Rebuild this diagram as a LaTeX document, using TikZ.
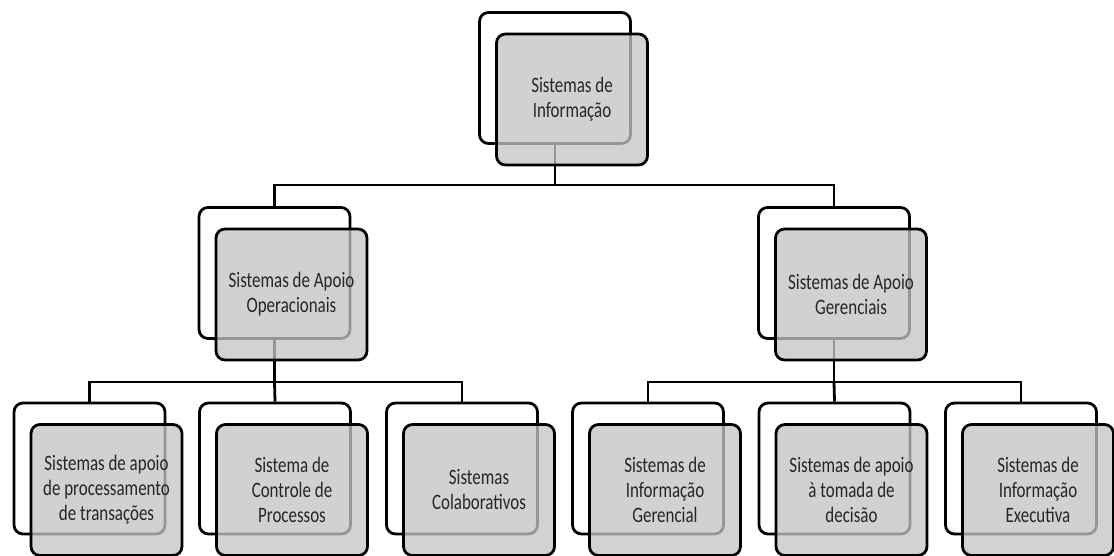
\documentclass[tikz,border=0pt]{standalone}
\usepackage{fontspec}
\newfontfamily\boxfont[FakeStretch=0.77]{Carlito}
\definecolor{boxgray}{RGB}{196,196,196}
\tikzset{
    backbox/.style={draw, line width=2.8pt, rounded corners=9pt, fill=white,
        minimum width=151pt, minimum height=131pt},
    frontbox/.style={backbox, fill=boxgray, fill opacity=0.77, text opacity=1,
        text=black!85, align=center, font=\boxfont\fontsize{22}{25}\selectfont},
    link/.style={line width=2.8pt}
}
\begin{document}
\begin{tikzpicture}[x=1pt,y=-1pt]
    \useasboundingbox (0,0) rectangle (1114,556);
    % back boxes
    \foreach \n/\x/\y in {si/555/78, sao/274.5/273, sag/834/273,
        spt/89.5/468.5, scp/275/468.5, sc/462/468.5,
        sig/648/468.5, sad/834.5/468.5, sie/1021/468.5} {
        \node[backbox] (\n) at (\x,\y) {};
    }
    % connectors
    \coordinate (bus1) at (555,185);
    \coordinate (bus2) at (274.5,382);
    \coordinate (bus3) at (834,382);
    \draw[link] (si.south) -- (bus1) -| (sao.north);
    \draw[link] (bus1) -| (sag.north);
    \draw[link] (sao.south) -- (bus2) -| (spt.north);
    \draw[link] (bus2) -- (scp.north);
    \draw[link] (bus2) -| (sc.north);
    \draw[link] (sag.south) -- (bus3) -| (sig.north);
    \draw[link] (bus3) -- (sad.north);
    \draw[link] (bus3) -| (sie.north);
    % front boxes
    \foreach \n/\t in {si/{Sistemas de\\Informação},
        sao/{Sistemas de Apoio\\Operacionais},
        sag/{Sistemas de Apoio\\Gerenciais},
        spt/{Sistemas de apoio\\de processamento\\de transações},
        scp/{Sistema de\\Controle de\\Processos},
        sc/{Sistemas\\Colaborativos},
        sig/{Sistemas de\\Informação\\Gerencial},
        sad/{Sistemas de apoio\\à tomada de\\decisão},
        sie/{Sistemas de\\Informação\\Executiva}} {
        \node[frontbox] (\n-f) at ([shift={(17pt,-21.5pt)}]\n.center) {\t};
    }
\end{tikzpicture}
\end{document}
